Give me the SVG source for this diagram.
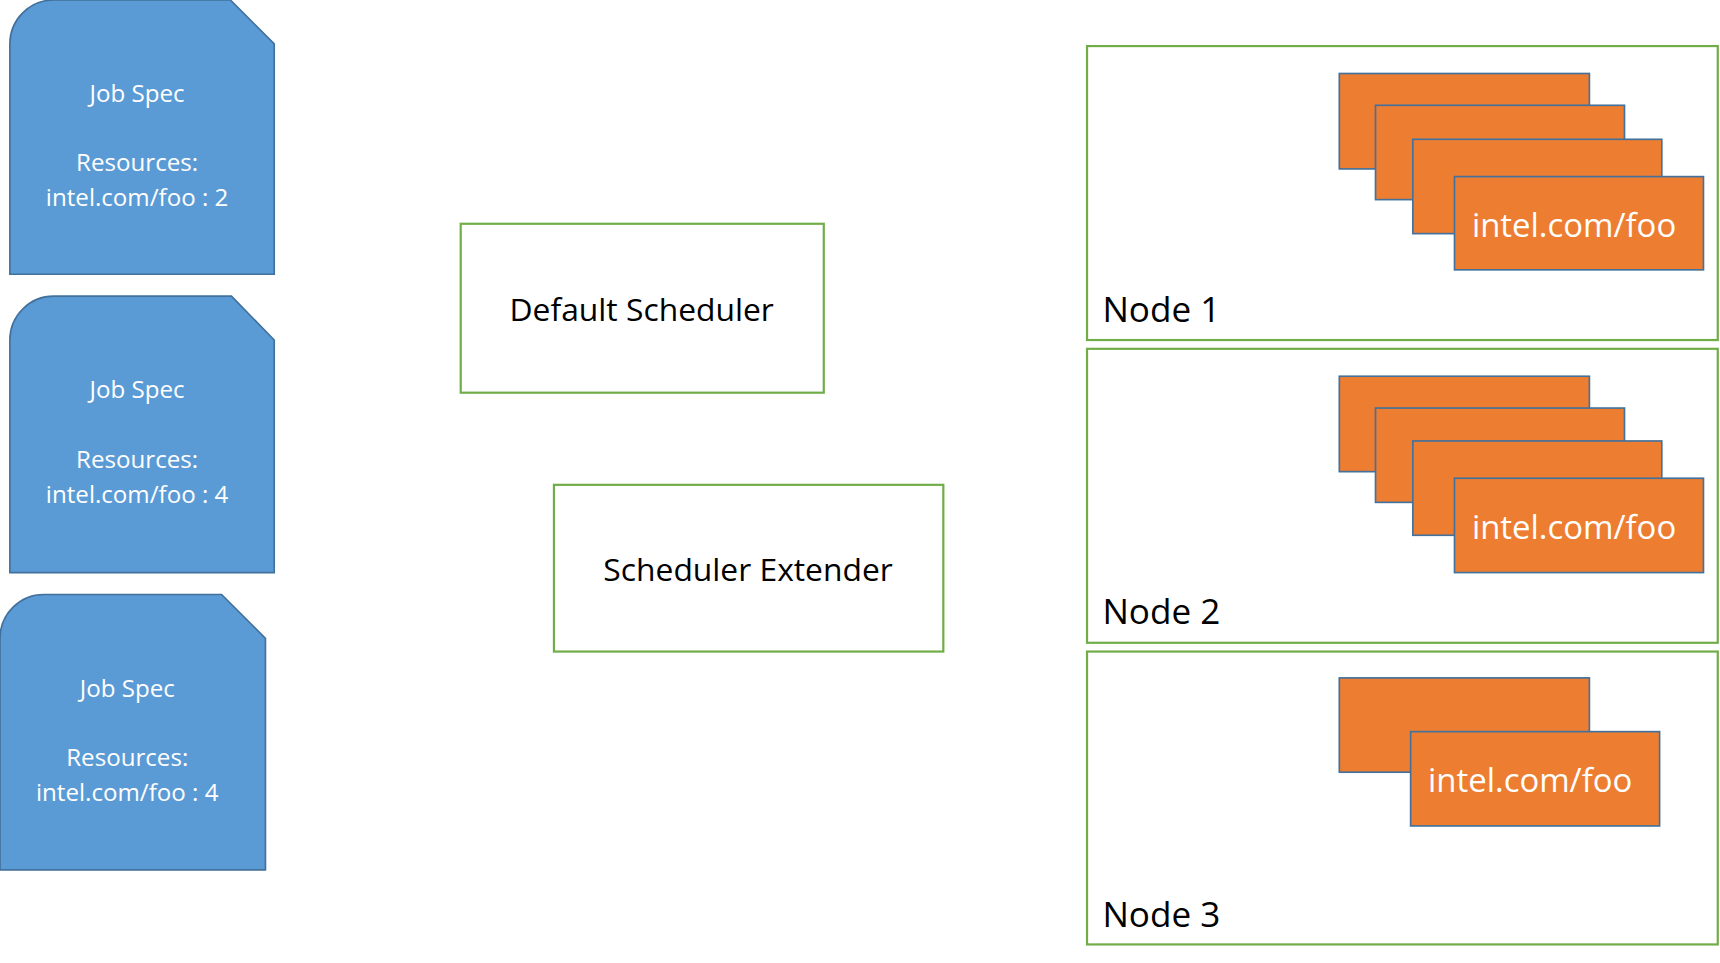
<svg xmlns="http://www.w3.org/2000/svg" width="1720" height="963" viewBox="0 0 1720 963">
<style>
.job{fill:#5b9bd5;stroke:#41719c;stroke-width:1.5}
.jt{fill:#fff;font-family:"Open Sans","Liberation Sans",sans-serif;font-size:22px;text-anchor:middle}
.box{fill:#fff;stroke:#70ad47;stroke-width:2}
.bt{fill:#000;font-family:"Open Sans","Liberation Sans",sans-serif;font-size:29px;text-anchor:middle}
.nt{fill:#000;font-family:"Open Sans","Liberation Sans",sans-serif;font-size:32px}
.dev{fill:#ed7d31;stroke:#41719c;stroke-width:1.5}
.dt{fill:#fff;font-family:"Open Sans","Liberation Sans",sans-serif;font-size:30px;text-anchor:middle}
</style>
<rect width="1720" height="963" fill="#fff"/>
<g transform="scale(1.0969)">
<g id="job1"><path class="job" d="M9,250 V40 A40,40 0 0 1 49,0 H210 L250,40 V250 Z"/>
<text class="jt" x="125" y="93">Job Spec</text><text class="jt" x="125" y="156">Resources:</text><text class="jt" x="125" y="188">intel.com/foo : 2</text></g>
<g id="job2"><path class="job" d="M9,522 V310 A40,40 0 0 1 49,270 H211 L250,310 V522 Z"/>
<text class="jt" x="125" y="363">Job Spec</text><text class="jt" x="125" y="427">Resources:</text><text class="jt" x="125" y="459">intel.com/foo : 4</text></g>
<g id="job3"><path class="job" d="M0,793 V582 A40,40 0 0 1 40,542 H202 L242,582 V793 Z"/>
<text class="jt" x="116" y="635">Job Spec</text><text class="jt" x="116" y="698">Resources:</text><text class="jt" x="116" y="730">intel.com/foo : 4</text></g>
<g id="default"><rect class="box" x="420" y="204" width="331" height="154"/><text class="bt" x="585" y="293">Default Scheduler</text></g>
<g id="extender"><rect class="box" x="505" y="442" width="355" height="152"/><text class="bt" x="682" y="530">Scheduler Extender</text></g>
<g id="node1"><rect class="box" x="991" y="42" width="575" height="268"/>
<rect class="dev" x="1221" y="67" width="228" height="87"/><rect class="dev" x="1254" y="96" width="227" height="86"/><rect class="dev" x="1288" y="127" width="227" height="86"/><rect class="dev" x="1326" y="161" width="227" height="85"/>
<text class="dt" x="1435" y="216">intel.com/foo</text><text class="nt" x="1005" y="294">Node 1</text></g>
<g id="node2"><rect class="box" x="991" y="318" width="575" height="268"/>
<rect class="dev" x="1221" y="343" width="228" height="87"/><rect class="dev" x="1254" y="372" width="227" height="86"/><rect class="dev" x="1288" y="402" width="227" height="86"/><rect class="dev" x="1326" y="436" width="227" height="86"/>
<text class="dt" x="1435" y="491">intel.com/foo</text><text class="nt" x="1005" y="569">Node 2</text></g>
<g id="node3"><rect class="box" x="991" y="594" width="575" height="267"/>
<rect class="dev" x="1221" y="618" width="228" height="86"/><rect class="dev" x="1286" y="667" width="227" height="86"/>
<text class="dt" x="1395" y="722">intel.com/foo</text><text class="nt" x="1005" y="845">Node 3</text></g>
<g id="connectors"/>
</g>
</svg>
